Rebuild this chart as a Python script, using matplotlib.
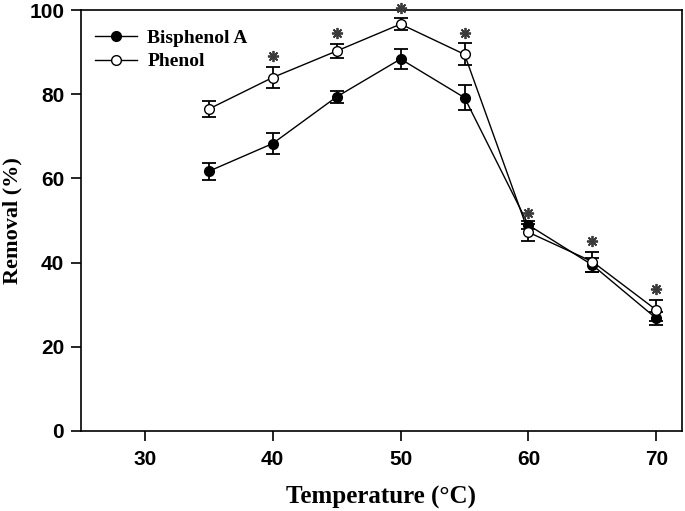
import numpy as np
import matplotlib.pyplot as plt
from matplotlib.lines import Line2D

# data
temp = [35, 40, 45, 50, 55, 60, 65, 70]
bpa = [61.7, 68.3, 79.4, 88.4, 79.2, 48.9, 39.4, 26.7]
bpa_err = [2.0, 2.5, 1.5, 2.4, 3.0, 1.0, 1.7, 1.5]
phenol = [76.5, 84.0, 90.3, 96.7, 89.5, 47.2, 40.2, 28.7]
phenol_err = [2.0, 2.5, 1.7, 1.4, 2.6, 2.0, 2.4, 2.5]
signif = [False, True, True, True, True, True, True, True]

fig = plt.figure(figsize=(6.85, 5.11), dpi=100)
ax = fig.add_axes([0.118, 0.157, 0.8776, 0.823])

ax.errorbar(temp, bpa, yerr=bpa_err, color='black', marker='o', ms=7,
            mfc='black', mec='black', lw=1, capsize=5, capthick=1.3,
            elinewidth=1.3, zorder=3)
ax.errorbar(temp, phenol, yerr=phenol_err, color='black', marker='o', ms=7,
            mfc='white', mec='black', lw=1, capsize=5, capthick=1.3,
            elinewidth=1.3, zorder=4)

# significance asterisks above the phenol error bars
sx = [t for t, s in zip(temp, signif) if s]
sy = [p + e + 2.5 for p, e, s in zip(phenol, phenol_err, signif) if s]
ax.plot(sx, sy, ls='none', marker=(8, 2, 0), ms=8, mew=1.3, color='#3a3a3a',
        clip_on=False, zorder=5)

ax.set_xlim(25, 72)
ax.set_ylim(0, 100)
ax.set_xticks([30, 40, 50, 60, 70])
ax.set_yticks([0, 20, 40, 60, 80, 100])
ax.tick_params(direction='out', length=7, width=1.2, labelsize=15)
ax.tick_params(axis='y', pad=5)
ax.tick_params(axis='x', pad=7)
for lab in ax.get_xticklabels() + ax.get_yticklabels():
    lab.set_family('Liberation Sans')
    lab.set_fontweight('bold')
for sp in ax.spines.values():
    sp.set_linewidth(1.2)

ax.set_xlabel('Temperature (°C)', family='Liberation Serif', fontweight='bold',
              fontsize=18, labelpad=12)
ax.set_ylabel('Removal (%)', family='Liberation Serif', fontweight='bold',
              fontsize=16)
ax.yaxis.set_label_coords(-0.097, 0.5)

handles = [
    Line2D([], [], color='black', lw=1, marker='o', ms=7, mfc='black', mec='black'),
    Line2D([], [], color='black', lw=1, marker='o', ms=7, mfc='white', mec='black'),
]
ax.legend(handles, ['Bisphenol A', 'Phenol'], loc='upper left', frameon=False,
          bbox_to_anchor=(0.0103, 0.9724), borderaxespad=0,
          handlelength=2.15, handletextpad=0.55, labelspacing=0.29,
          prop={'family': 'Liberation Serif', 'weight': 'bold', 'size': 14})

fig.savefig('out.png', dpi=100)
